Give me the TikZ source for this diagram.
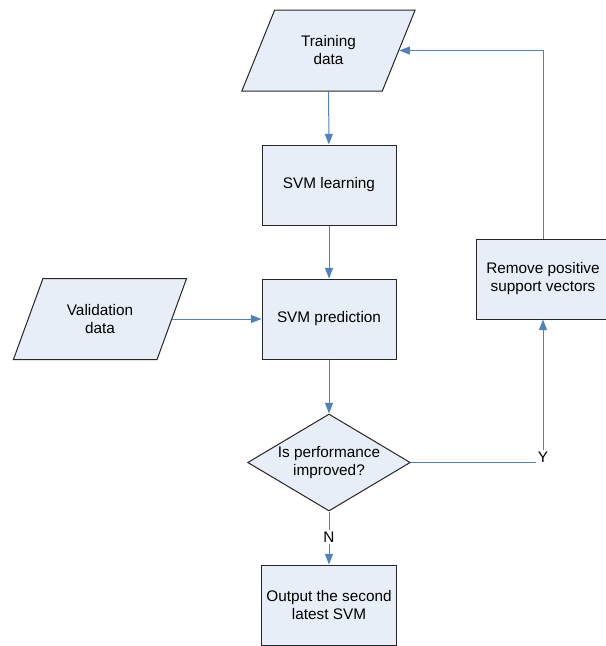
\documentclass[tikz,border=0pt]{standalone}
\usepackage{fontspec}
\setmainfont{Liberation Sans}
\usetikzlibrary{positioning,shapes.geometric,arrows.meta}
\definecolor{boxFill}{RGB}{232,238,247}
\definecolor{flowColor}{RGB}{79,129,189}
\newcommand{\flowFont}{\fontsize{11.5}{13.5}\selectfont}
\tikzstyle{flowChart} = [x = 0.75pt, y = -0.75pt, every node/.style={font=\flowFont, align=center}]
\tikzstyle{processBox} = [rectangle, draw=black!85, fill=boxFill, line width=0.75pt, minimum width=100.5pt, minimum height=60pt]
\tikzstyle{dataBox} = [trapezium, trapezium left angle=63, trapezium right angle=117, trapezium stretches=true, draw=black!85, fill=boxFill, line width=0.75pt, minimum width=131pt, minimum height=60.75pt]
\tikzstyle{decisionBox} = [diamond, aspect=1.68, draw=black!85, fill=boxFill, line width=0.75pt, minimum width=122pt, minimum height=72.75pt, inner sep=0pt]
\tikzstyle{flowLine} = [color=flowColor, line width=0.75pt]
\tikzstyle{flowArrow} = [flowLine, -{Triangle[length=8pt, width=6pt]}]
\tikzstyle{branchLabel} = [inner sep=1pt]

\begin{document}
\begin{tikzpicture}[flowChart]
      \useasboundingbox (0, 0) rectangle (606, 646);

      \node[dataBox] (training) at (328.5, 50.5) {Training\\data};
      \node[processBox] (learning) at (329, 185) {SVM learning};
      \node[processBox] (prediction) at (329, 319) {SVM prediction};
      \node[dataBox] (validation) at (100, 319) {Validation\\data};
      \node[decisionBox] (improved) at (329, 462.5) {Is performance\\improved?};
      \node[processBox] (remove) at (543, 279) {Remove positive\\support vectors};
      \node[processBox] (output) at (329, 605) {Output the second\\latest SVM};
      \node[branchLabel] (yes) at (543, 457) {Y};
      \node[branchLabel] (no) at (329, 537) {N};

      \draw[flowArrow] (training) -- (learning);
      \draw[flowArrow] (learning) -- (prediction);
      \draw[flowArrow] (validation.east) -- (prediction.west);
      \draw[flowArrow] (prediction) -- (improved);
      \draw[flowLine] (improved.east) -- (improved.east -| yes.west);
      \draw[flowArrow] (yes.north) -- (remove.south);
      \draw[flowArrow] (remove.north) |- (training.east);
      \draw[flowLine] (improved.south) -- (no.north);
      \draw[flowArrow] (no.south) -- (output.north);
    \end{tikzpicture}
\end{document}
